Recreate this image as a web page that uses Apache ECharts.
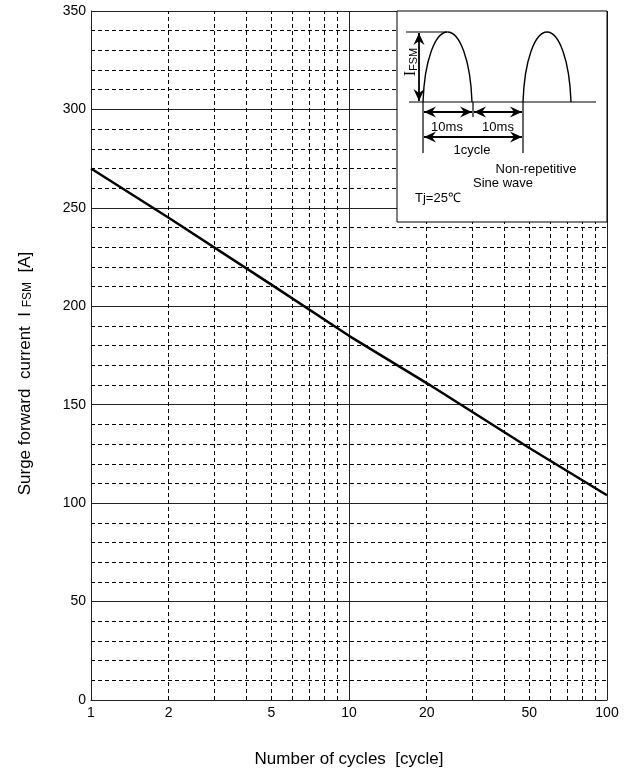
<!DOCTYPE html>
<html>
<head>
<meta charset="utf-8">
<script src="https://cdn.jsdelivr.net/npm/echarts@6/dist/echarts.min.js"></script>
<style>html,body{margin:0;padding:0;background:#fff;}#c{width:636px;height:778px;}</style>
</head>
<body>
<div id="c"></div>
<script>
// ---- data ----
const cycles = [1, 2, 5, 10, 20, 50, 100];
const surgeCurrent = [270, 245, 211, 185, 161, 128, 104];
const xTickLabels = [1, 2, 5, 10, 20, 50, 100];
const xMinorGrid = [2, 3, 4, 5, 6, 7, 8, 9, 20, 30, 40, 50, 60, 70, 80, 90];
const yTicks = [0, 50, 100, 150, 200, 250, 300, 350];

const FONT = 'Liberation Sans';
const chart = echarts.init(document.getElementById('c'));

// ---- inset decoration helpers ----
function arrowHead(tx, ty, dx, dy) {
  const L = 12, W = 5.5, N = 8;
  const px = -dy, py = dx;
  return {
    type: 'polygon', z: 101,
    shape: { points: [
      [tx, ty],
      [tx - dx * L + px * W, ty - dy * L + py * W],
      [tx - dx * N, ty - dy * N],
      [tx - dx * L - px * W, ty - dy * L - py * W]
    ] },
    style: { fill: '#000' }
  };
}
function line(x1, y1, x2, y2, w) {
  return { type: 'line', z: 101, shape: { x1, y1, x2, y2 }, style: { stroke: '#000', lineWidth: w || 1.2 } };
}
function dblArrow(x1, y1, x2, y2) {
  const len = Math.hypot(x2 - x1, y2 - y1);
  const dx = (x2 - x1) / len, dy = (y2 - y1) / len;
  return [line(x1, y1, x2, y2, 1.8), arrowHead(x2, y2, dx, dy), arrowHead(x1, y1, -dx, -dy)];
}
function arch(x0, x1, yb, yt) {
  const cx = (x0 + x1) / 2, h = yb - yt, r = (x1 - x0) / 2, f = 0.5;
  const st = { fill: null, stroke: '#000', lineWidth: 1.4 };
  return [
    { type: 'bezierCurve', z: 101, style: st,
      shape: { x1: x0, y1: yb, cpx1: x0 + 0.06 * r, cpy1: yb - f * 1.2 * h, cpx2: cx - f * r, cpy2: yt, x2: cx, y2: yt } },
    { type: 'bezierCurve', z: 101, style: st,
      shape: { x1: cx, y1: yt, cpx1: cx + f * r, cpy1: yt, cpx2: x1 - 0.06 * r, cpy2: yb - f * 1.2 * h, x2: x1, y2: yb } }
  ];
}
function txt(x, y, s, align, size) {
  return { type: 'text', z: 102, x, y,
    style: { text: s, fontFamily: FONT, fontSize: size || 13, fill: '#000', align: align || 'center', verticalAlign: 'middle' } };
}

const inset = [
  { type: 'rect', z: 100, shape: { x: 397, y: 11, width: 210, height: 211 }, style: { fill: '#fff', stroke: '#000', lineWidth: 1 } },
  line(409, 102, 596, 102),
  ...arch(423, 472, 102, 32),
  ...arch(523, 571, 102, 32),
  line(406, 32, 447, 32),
  line(423, 102, 423, 153),
  line(473, 102, 473, 117),
  line(523, 102, 523, 153),
  ...dblArrow(419, 33, 419, 101),
  ...dblArrow(424, 112, 472, 112),
  ...dblArrow(474, 112, 522, 112),
  ...dblArrow(424, 137, 522, 137),
  txt(447, 127, '10ms'),
  txt(498, 127, '10ms'),
  txt(472, 150, '1cycle'),
  txt(536, 169, 'Non-repetitive'),
  txt(503, 183, 'Sine wave'),
  txt(415, 198, 'Tj=25\u2103', 'left'),
  { type: 'text', z: 102, x: 411, y: 62, rotation: Math.PI / 2,
    style: { text: '{i|I}{f|FSM}', fontFamily: FONT, fill: '#000', align: 'center', verticalAlign: 'middle',
      rich: { i: { fontSize: 16, fontFamily: 'Liberation Serif' }, f: { fontSize: 11, fontFamily: FONT, verticalAlign: 'bottom' } } } }
];

const option = {
  animation: false,
  backgroundColor: '#fff',
  grid: { left: 91, right: 29, top: 11, bottom: 78, containLabel: false },
  xAxis: {
    type: 'log', logBase: 10, min: 1, max: 100,
    name: 'Number of cycles  [cycle]', nameLocation: 'middle', nameGap: 51,
    nameTextStyle: { fontFamily: FONT, fontSize: 17, color: '#000' },
    axisLine: { show: true, lineStyle: { color: '#222', width: 1 } },
    axisTick: { show: false },
    axisLabel: { customValues: xTickLabels, fontFamily: FONT, fontSize: 14, color: '#000', margin: 6 },
    splitLine: { show: true, lineStyle: { color: '#222', width: 1 } },
    minorTick: { show: false }, minorSplitLine: { show: false }
  },
  yAxis: {
    type: 'value', min: 0, max: 350, interval: 50,
    name: '{a|Surge forward  current  I }{s|FSM}{a|  [A]}', nameLocation: 'middle', nameGap: 57,
    nameTextStyle: { fontFamily: FONT, color: '#000', padding: [0, 36, 0, 0],
      rich: { a: { fontSize: 17, fontFamily: FONT, color: '#000' }, s: { fontSize: 12, fontFamily: FONT, color: '#000', verticalAlign: 'bottom' } } },
    axisLine: { show: true, lineStyle: { color: '#222', width: 1 } },
    axisTick: { show: false },
    axisLabel: { fontFamily: FONT, fontSize: 14, color: '#000', margin: 5,
      formatter: v => yTicks.indexOf(v) >= 0 ? String(v) : '' },
    splitLine: { show: true, lineStyle: { color: '#222', width: 1 } },
    minorTick: { show: false, splitNumber: 5 },
    minorSplitLine: { show: true, lineStyle: { color: '#000', width: 1, type: [4, 3] } }
  },
  series: [
    {
      type: 'line', silent: true, symbol: 'none',
      data: cycles.map((c, i) => [c, surgeCurrent[i]]),
      lineStyle: { color: '#000', width: 2.5 },
      z: 5,
      markLine: {
        silent: true, symbol: 'none', label: { show: false },
        lineStyle: { color: '#000', width: 1, type: [4, 3] },
        data: xMinorGrid.map(v => ({ xAxis: v }))
      }
    }
  ],
  graphic: inset
};
chart.setOption(option);
</script>
</body>
</html>
